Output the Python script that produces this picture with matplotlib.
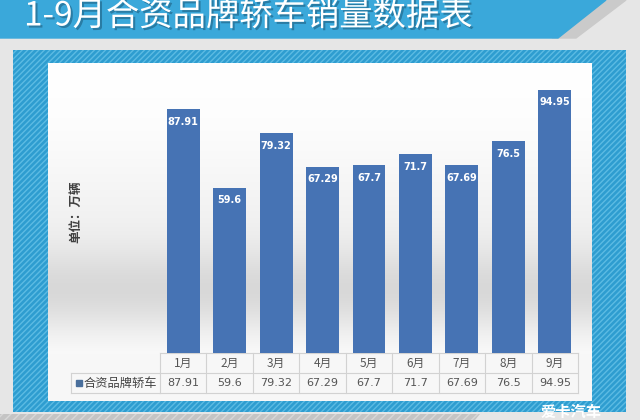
import numpy as np
import matplotlib
matplotlib.use("Agg")
import matplotlib.pyplot as plt
import matplotlib.transforms as mtransforms
from matplotlib.patches import Rectangle, Polygon
import matplotlib.patheffects as pe

plt.rcParams['font.family'] = ['Noto Sans CJK SC', 'DejaVu Sans']

title = "1-9月合资品牌轿车销量数据表"
months = ["1月", "2月", "3月", "4月", "5月", "6月", "7月", "8月", "9月"]
sales = [87.91, 59.6, 79.32, 67.29, 67.7, 71.7, 67.69, 76.5, 94.95]
value_labels = ["87.91", "59.6", "79.32", "67.29", "67.7", "71.7", "67.69", "76.5", "94.95"]
series_name = "合资品牌轿车"
unit_label = "单位：万辆"

W, H = 640, 420
fig = plt.figure(figsize=(6.4, 4.2), dpi=100)

# background axes in pixel coordinates
bg = fig.add_axes([0, 0, 1, 1])
bg.set_xlim(0, W)
bg.set_ylim(H, 0)
bg.axis("off")

bg.add_patch(Rectangle((0, 0), W, H, color="#e6e6e6", zorder=0))

# header band
bg.add_patch(Polygon([(600, 0), (626, 0), (576, 38), (552, 38)], closed=True,
                     color="#cacaca", zorder=1))
bg.add_patch(Polygon([(0, 0), (606, 0), (558, 38), (0, 38)], closed=True,
                     color="#3aa8da", zorder=2))
bg.text(24, 16, title, color="white", fontsize=24, va="center", ha="left", zorder=3,
        path_effects=[pe.withSimplePatchShadow(offset=(1.5, -1.5), shadow_rgbFace="#1f5f80", alpha=0.6)])

# blue hatched frame
bg.add_patch(Rectangle((13, 50), 613, 362, facecolor="#2e9dd0", edgecolor="#5cbbe3",
                       hatch="//////", linewidth=0, zorder=1))
# bottom grey strip
bg.add_patch(Polygon([(0, 414), (480, 414), (475, 420), (0, 420)], closed=True,
                     facecolor="#c4c4c4", edgecolor="#d8d8d8", hatch="////", linewidth=0, zorder=1))

# white panel with soft grey gradient
grad = np.ones((200, 1))
yy = np.linspace(0, 1, 200)
shade = 1 - 0.12 * np.exp(-((yy - 0.68) / 0.13) ** 2) - 0.05 * np.exp(-((yy - 0.5) / 0.25) ** 2)
shade[yy > 0.86] = 0.97
img = np.dstack([shade[:, None] * grad] * 3)
bg.imshow(img, extent=(48, 592, 401, 63), aspect="auto", zorder=2, interpolation="bilinear")

# logo
bg.text(571, 412, "爱卡汽车", color="white", fontsize=11, fontweight="bold",
        ha="center", va="center", zorder=3)

# unit label
bg.text(76, 212, unit_label, rotation=90, color="#404040", fontsize=9, fontweight="bold",
        ha="center", va="center", zorder=3)

# bar axes: x 160..578 px, y 76..353 px
x0, x1, ytop, ybase = 160, 578, 76, 353
ax = fig.add_axes([x0 / W, 1 - ybase / H, (x1 - x0) / W, (ybase - ytop) / H])
ax.patch.set_alpha(0)
ax.set_xlim(-0.5, len(months) - 0.5)
ax.set_ylim(0, 100)
ax.axis("off")
ax.set_zorder(5)

x = np.arange(len(months))
ax.bar(x, sales, width=0.71, color="#4673b4", zorder=3)
for xi, v, lab in zip(x, sales, value_labels):
    ax.annotate(lab, (xi, v), xytext=(0, -9), textcoords="offset points",
                ha="center", va="center", color="white", fontsize=7, fontweight="bold",
                family="DejaVu Sans")

# data table under the bars
tr = mtransforms.blended_transform_factory(ax.transData, bg.transData)
grid_c = "#d2d2d2"
r0, r1, r2 = 353, 373, 393
ax.plot([-0.5, 8.5], [r0, r0], transform=tr, color=grid_c, lw=0.8, clip_on=False)
ax.plot([-0.5, 8.5], [r1, r1], transform=tr, color=grid_c, lw=0.8, clip_on=False)
ax.plot([-0.5, 8.5], [r2, r2], transform=tr, color=grid_c, lw=0.8, clip_on=False)
for b in np.arange(len(months) + 1) - 0.5:
    ax.plot([b, b], [r0, r2], transform=tr, color=grid_c, lw=0.8, clip_on=False)
for xi, m, lab in zip(x, months, value_labels):
    ax.text(xi, (r0 + r1) / 2, m, transform=tr, ha="center", va="center",
            fontsize=8.5, color="#555555")
    ax.text(xi, (r1 + r2) / 2, lab, transform=tr, ha="center", va="center",
            fontsize=8, color="#555555", family="DejaVu Sans")

# label cell
bg.plot([71, 160], [r1, r1], color=grid_c, lw=0.8, zorder=4)
bg.plot([71, 160], [r2, r2], color=grid_c, lw=0.8, zorder=4)
bg.plot([71, 71], [r1, r2], color=grid_c, lw=0.8, zorder=4)
bg.add_patch(Rectangle((76, 380), 6, 6, color="#4a6f9c", zorder=4))
bg.text(84, (r1 + r2) / 2, series_name, ha="left", va="center", fontsize=8.8,
        color="#444444", zorder=4)

fig.savefig("out.png", dpi=100)
